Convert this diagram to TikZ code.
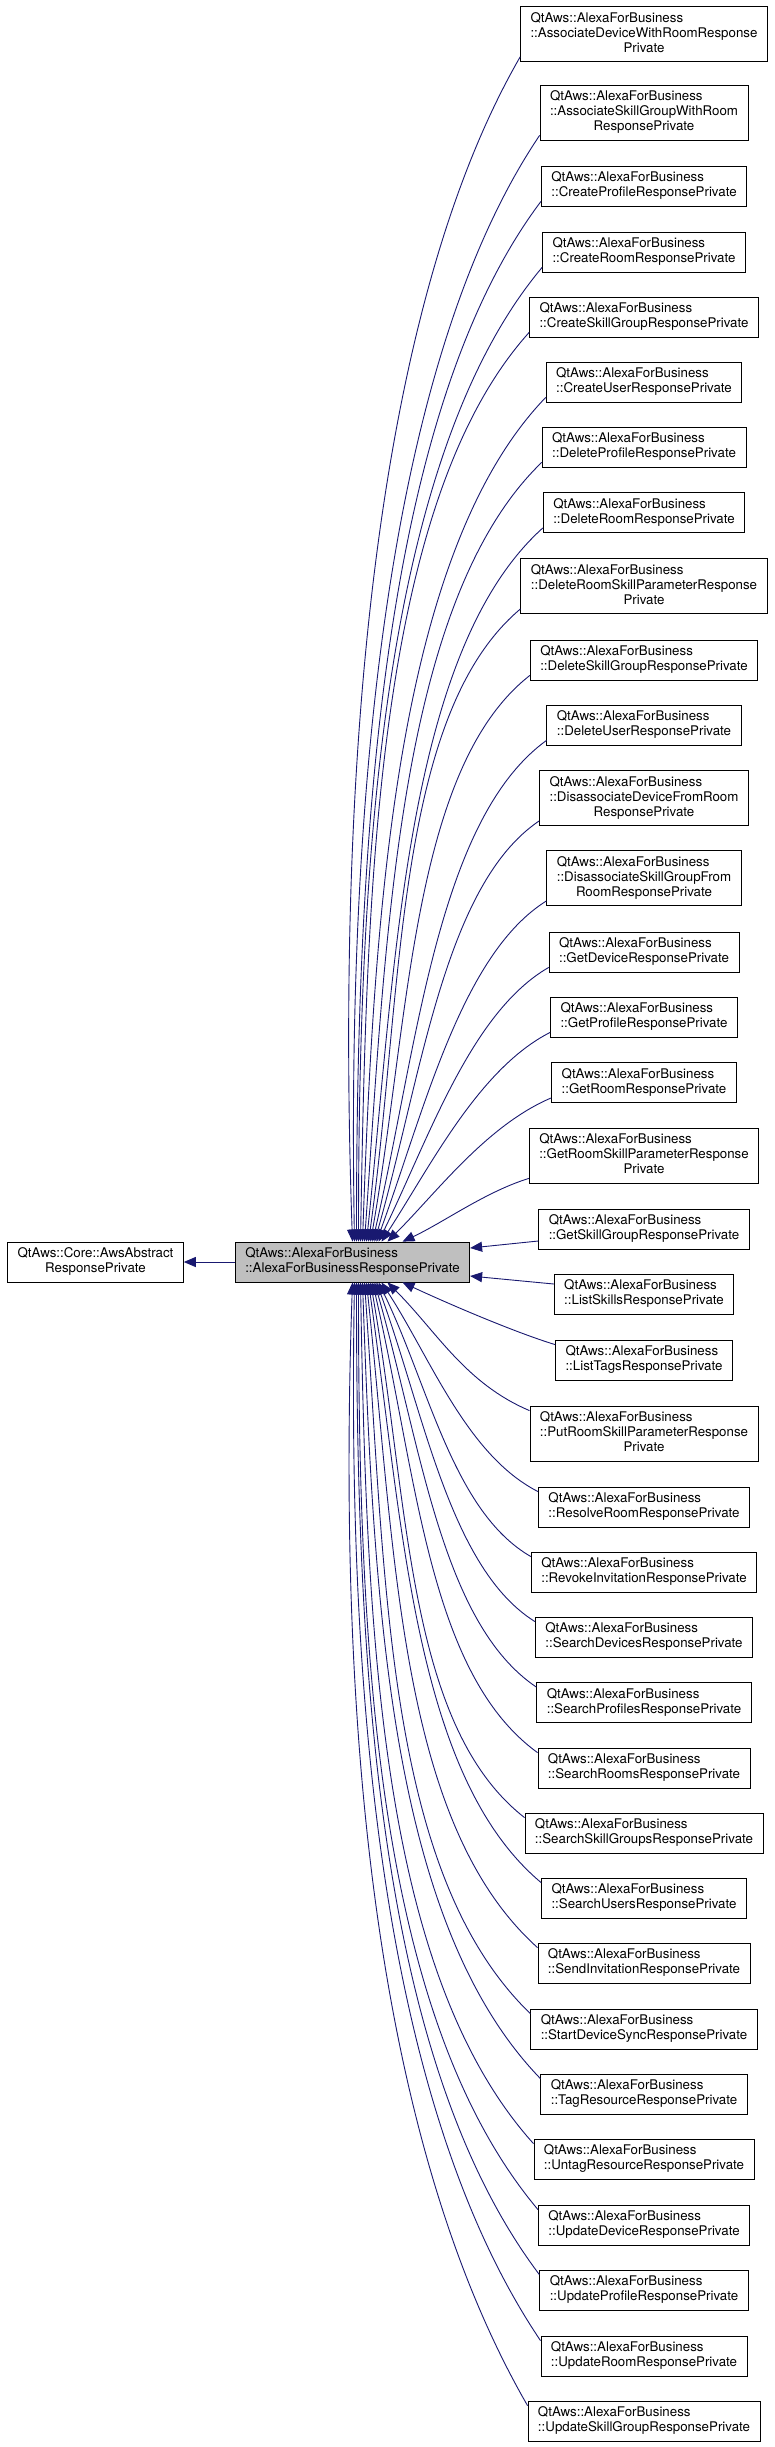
\documentclass[tikz,border=0pt]{standalone}
\usepackage{fontspec}
\setmainfont{TeX Gyre Heros}
\usetikzlibrary{arrows.meta}
\definecolor{edgeblue}{HTML}{191970}
\definecolor{basegray}{HTML}{BFBFBF}
% class label: left-aligned lines, last line centred
\newcommand{\cls}[2]{\begin{tabular}{@{}l@{}}#1\\\multicolumn{1}{@{}c@{}}{#2}\end{tabular}}

\begin{document}
\begin{tikzpicture}[x=1pt, y=1pt,
  box/.style={draw=black, line width=0.8pt, inner xsep=10pt, inner ysep=5pt,
    font=\fontsize{13.3}{15}\selectfont},
  edge/.style={edgeblue, line width=0.9pt, -{Triangle[length=12pt, width=10pt]}}]
\useasboundingbox (0,0) rectangle (775,-2447);

% base classes
\node[box] (awsResp) at (95.5,-1262) {\cls{QtAws::Core::AwsAbstract}{ResponsePrivate}};
\node[box, fill=basegray] (afbResp) at (352.5,-1262)
  {\cls{QtAws::AlexaForBusiness}{::AlexaForBusinessResponsePrivate}};
\draw[edge] (afbResp) -- (awsResp);

% derived classes, one column
\node[box] (assocDev) at (644,-34) {\cls{QtAws::AlexaForBusiness\\::AssociateDeviceWithRoomResponse}{Private}};
\node[box] (assocSkill) at (644,-112.5) {\cls{QtAws::AlexaForBusiness\\::AssociateSkillGroupWithRoom}{ResponsePrivate}};
\node[box] (createProfile) at (644,-186) {\cls{QtAws::AlexaForBusiness}{::CreateProfileResponsePrivate}};
\node[box] (createRoom) at (644,-252) {\cls{QtAws::AlexaForBusiness}{::CreateRoomResponsePrivate}};
\node[box] (createSkill) at (644,-317) {\cls{QtAws::AlexaForBusiness}{::CreateSkillGroupResponsePrivate}};
\node[box] (createUser) at (644,-382) {\cls{QtAws::AlexaForBusiness}{::CreateUserResponsePrivate}};
\node[box] (deleteProfile) at (644,-447) {\cls{QtAws::AlexaForBusiness}{::DeleteProfileResponsePrivate}};
\node[box] (deleteRoom) at (644,-512.5) {\cls{QtAws::AlexaForBusiness}{::DeleteRoomResponsePrivate}};
\node[box] (deleteRoomSkill) at (644,-586) {\cls{QtAws::AlexaForBusiness\\::DeleteRoomSkillParameterResponse}{Private}};
\node[box] (deleteSkill) at (644,-660) {\cls{QtAws::AlexaForBusiness}{::DeleteSkillGroupResponsePrivate}};
\node[box] (deleteUser) at (644,-725) {\cls{QtAws::AlexaForBusiness}{::DeleteUserResponsePrivate}};
\node[box] (disassocDev) at (644,-798) {\cls{QtAws::AlexaForBusiness\\::DisassociateDeviceFromRoom}{ResponsePrivate}};
\node[box] (disassocSkill) at (644,-878) {\cls{QtAws::AlexaForBusiness\\::DisassociateSkillGroupFrom}{RoomResponsePrivate}};
\node[box] (getDevice) at (644,-952) {\cls{QtAws::AlexaForBusiness}{::GetDeviceResponsePrivate}};
\node[box] (getProfile) at (644,-1017) {\cls{QtAws::AlexaForBusiness}{::GetProfileResponsePrivate}};
\node[box] (getRoom) at (644,-1082.5) {\cls{QtAws::AlexaForBusiness}{::GetRoomResponsePrivate}};
\node[box] (getRoomSkill) at (644,-1155.5) {\cls{QtAws::AlexaForBusiness\\::GetRoomSkillParameterResponse}{Private}};
\node[box] (getSkill) at (644,-1229) {\cls{QtAws::AlexaForBusiness}{::GetSkillGroupResponsePrivate}};
\node[box] (listSkills) at (644,-1294) {\cls{QtAws::AlexaForBusiness}{::ListSkillsResponsePrivate}};
\node[box] (listTags) at (644,-1360) {\cls{QtAws::AlexaForBusiness}{::ListTagsResponsePrivate}};
\node[box] (putRoomSkill) at (644,-1433.5) {\cls{QtAws::AlexaForBusiness\\::PutRoomSkillParameterResponse}{Private}};
\node[box] (resolveRoom) at (644,-1507) {\cls{QtAws::AlexaForBusiness}{::ResolveRoomResponsePrivate}};
\node[box] (revokeInv) at (644,-1572) {\cls{QtAws::AlexaForBusiness}{::RevokeInvitationResponsePrivate}};
\node[box] (searchDev) at (644,-1637) {\cls{QtAws::AlexaForBusiness}{::SearchDevicesResponsePrivate}};
\node[box] (searchProfiles) at (644,-1702.5) {\cls{QtAws::AlexaForBusiness}{::SearchProfilesResponsePrivate}};
\node[box] (searchRooms) at (644,-1768) {\cls{QtAws::AlexaForBusiness}{::SearchRoomsResponsePrivate}};
\node[box] (searchSkill) at (644,-1833) {\cls{QtAws::AlexaForBusiness}{::SearchSkillGroupsResponsePrivate}};
\node[box] (searchUsers) at (644,-1898) {\cls{QtAws::AlexaForBusiness}{::SearchUsersResponsePrivate}};
\node[box] (sendInv) at (644,-1963) {\cls{QtAws::AlexaForBusiness}{::SendInvitationResponsePrivate}};
\node[box] (startSync) at (644,-2029) {\cls{QtAws::AlexaForBusiness}{::StartDeviceSyncResponsePrivate}};
\node[box] (tagRes) at (644,-2094) {\cls{QtAws::AlexaForBusiness}{::TagResourceResponsePrivate}};
\node[box] (untagRes) at (644,-2159) {\cls{QtAws::AlexaForBusiness}{::UntagResourceResponsePrivate}};
\node[box] (updateDev) at (644,-2225) {\cls{QtAws::AlexaForBusiness}{::UpdateDeviceResponsePrivate}};
\node[box] (updateProfile) at (644,-2290) {\cls{QtAws::AlexaForBusiness}{::UpdateProfileResponsePrivate}};
\node[box] (updateRoom) at (644,-2356) {\cls{QtAws::AlexaForBusiness}{::UpdateRoomResponsePrivate}};
\node[box] (updateSkill) at (644,-2421) {\cls{QtAws::AlexaForBusiness}{::UpdateSkillGroupResponsePrivate}};

% edges from the classes above: name/out angle/in angle/out dist/in dist/shift
\foreach \n/\o/\i/\a/\b/\s in {assocDev/240/92/300/455/0, assocSkill/236/91/280/425/2,
    createProfile/233/90/265/400/4, createRoom/230/90/250/375/6, createSkill/228/89/230/350/8,
    createUser/226/88/215/330/10, deleteProfile/224/86/200/305/12, deleteRoom/222/84/185/280/14,
    deleteRoomSkill/220/82/165/250/16, deleteSkill/218/80/150/225/18, deleteUser/216/77/135/200/20,
    disassocDev/214/74/115/170/22, disassocSkill/212/70/100/140/24, getDevice/210/64/90/115/26,
    getProfile/207/57/80/90/29, getRoom/203/45/70/70/35, getRoomSkill/197/25/45/45/50}
  \draw[edge] ([yshift=5pt]\n.south west) .. controls +(\o:\a pt) and +(\i:\b pt)
    .. ([xshift=\s pt]afbResp.north);

% edges from the classes beside
\draw[edge] ([yshift=-12pt]getSkill.west) -- ([yshift=14pt]afbResp.east);
\draw[edge] ([yshift=10pt]listSkills.west) -- ([yshift=-14pt]afbResp.east);

% edges from the classes below
\foreach \n/\o/\i/\a/\b/\s in {updateSkill/120/268/300/455/0, updateRoom/124/269/280/425/2,
    updateProfile/127/270/265/400/4, updateDev/130/270/250/375/6, untagRes/132/271/230/350/8,
    tagRes/134/272/215/330/10, startSync/136/274/200/305/12, sendInv/138/276/185/280/14,
    searchUsers/140/278/165/250/16, searchSkill/142/280/150/225/18, searchRooms/144/283/135/200/20,
    searchProfiles/146/286/115/170/22, searchDev/148/290/100/140/24, revokeInv/150/296/90/115/26,
    resolveRoom/153/303/80/90/29, putRoomSkill/157/315/70/70/35, listTags/163/335/45/45/50}
  \draw[edge] ([yshift=-5pt]\n.north west) .. controls +(\o:\a pt) and +(\i:\b pt)
    .. ([xshift=\s pt]afbResp.south);
\end{tikzpicture}
\end{document}
